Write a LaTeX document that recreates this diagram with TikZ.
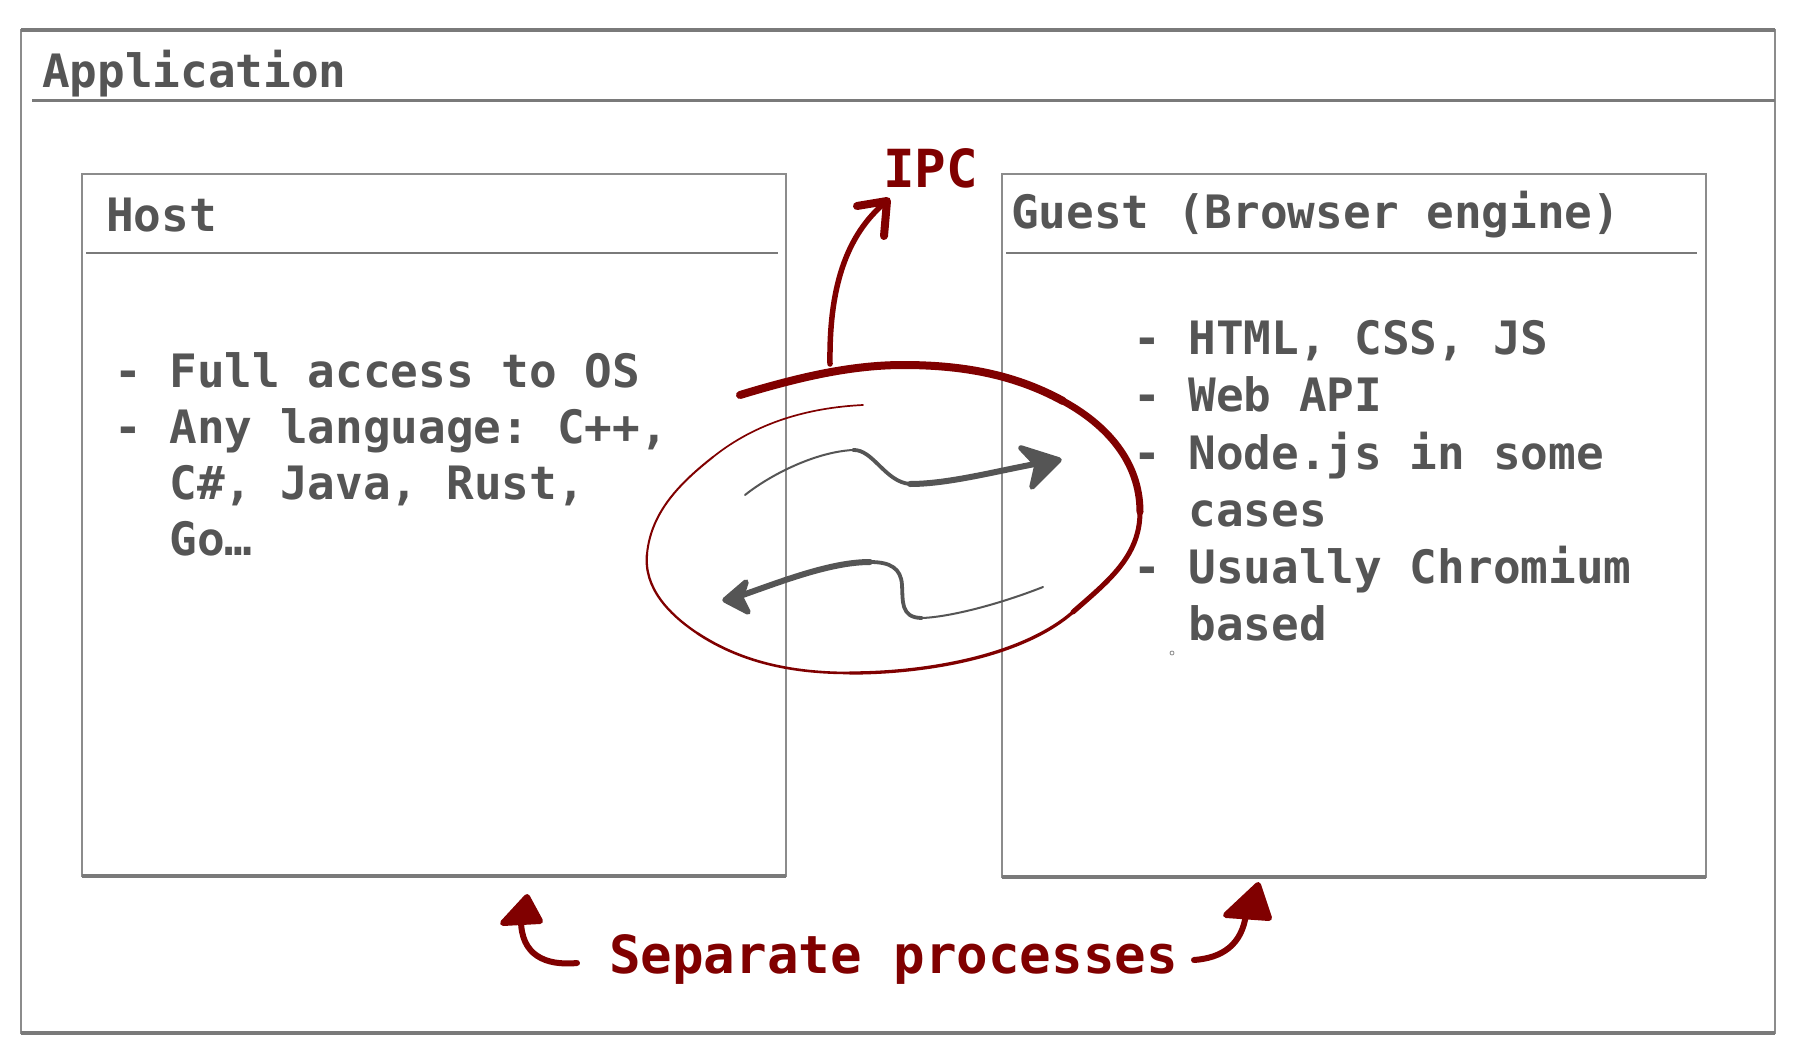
\documentclass[tikz,border=0pt]{standalone}
\usepackage{fontspec}
\setmonofont{DejaVu Sans Mono}
\usetikzlibrary{arrows.meta}
\definecolor{txtgray}{HTML}{555555}
\definecolor{pen}{HTML}{8C8C8C}
\definecolor{pendark}{HTML}{7A7A7A}
\definecolor{ipcred}{HTML}{800000}
\definecolor{arrgray}{HTML}{555555}
\tikzset{
  lbl/.style={anchor=base west, inner sep=0pt, outer sep=0pt, text=txtgray,
    font=\ttfamily\bfseries\fontsize{46}{56}\selectfont},
  redlbl/.style={anchor=base west, inner sep=0pt, outer sep=0pt, text=ipcred,
    font=\ttfamily\bfseries\fontsize{52.5}{60}\selectfont},
  boxside/.style={draw=pen, line width=2.2pt, inner sep=0pt, outer sep=0pt, anchor=north west},
  boxedge/.style={draw=pendark, line width=3.2pt},
  headline/.style={draw=pendark, line width=2.6pt},
  ipcline/.style={draw=ipcred, line width=5.5pt, line cap=round, line join=round},
  sepline/.style={draw=ipcred, line width=6pt, line cap=round, line join=round},
  blob/.style={fill=ipcred, draw=ipcred, line width=6pt, line join=round},
  wave/.style={draw=arrgray, line cap=round, line join=round},
  wavehead/.style={fill=arrgray, draw=arrgray, line width=5.5pt, line join=round},
  oval/.style={draw=ipcred, line cap=round, line join=round},
}
\begin{document}
\begin{tikzpicture}[x=1pt,y=-1pt]
\useasboundingbox (0,0) rectangle (1797,1054);
\fill[white] (0,0) rectangle (1797,1054);

% boxes
\node[boxside, minimum width=1754pt, minimum height=1003pt] (app) at (21,30) {};
\draw[boxedge] (21,30) -- (1775,30);
\draw[boxedge] (21,1033) -- (1775,1033);
\draw[headline, line width=3pt] (32,101) -- (1775,101);

\node[boxside, minimum width=704pt, minimum height=702pt] (host) at (82,174) {};
\draw[boxedge] (82,876) -- (786,876);
\draw[headline] (86,253) -- (778,253);

\node[boxside, minimum width=704pt, minimum height=703pt] (guest) at (1002,174) {};
\draw[boxedge] (1002,877) -- (1706,877);
\draw[headline] (1006,253) -- (1697,253);

% titles
\node[lbl] (apptitle) at (42,88) {Application};
\node[lbl] (hosttitle) at (106,231) {Host};
\node[lbl] (guesttitle) at (1011,228) {Guest (Browser engine)};

% host text
\node[lbl] (h1) at (114,387) {- Full access to OS};
\node[lbl] (h2) at (114,443) {- Any language: C++,};
\node[lbl] (h3) at (169.4,499) {C\#, Java, Rust,};
\node[lbl] (h4) at (169.4,555) {Go…};

% guest text
\node[lbl] (g1) at (1133,354) {- HTML, CSS, JS};
\node[lbl] (g2) at (1133,411) {- Web API};
\node[lbl] (g3) at (1133,469) {- Node.js in some};
\node[lbl] (g4) at (1188.4,526) {cases};
\node[lbl] (g5) at (1133,583) {- Usually Chromium};
\node[lbl] (g6) at (1188.4,640) {based};

% red labels
\node[redlbl] (ipc) at (883,188) {IPC};
\node[redlbl] (sep) at (609,973) {Separate processes};

% oval (hand-drawn, tapering stroke)
\coordinate (oA) at (740,395);
\coordinate (oB) at (903,365);
\coordinate (oC) at (1063,401);
\coordinate (oD) at (1140,512);
\coordinate (oE) at (1073,612);
\coordinate (oF) at (850,673);
\coordinate (oG) at (697,633);
\coordinate (oH) at (647,554);
\coordinate (oI) at (713,457);
\coordinate (oJ) at (863,405);
\draw[oval, line width=8pt] (oA) .. controls (793,379) and (848,365) .. (oB)
  .. controls (960,365) and (1013,373.5) .. (oC);
\draw[oval, line width=7pt] (oC) .. controls (1107,425) and (1140,462) .. (oD);
\draw[oval, line width=5pt] (oD) .. controls (1140,557) and (1107,582) .. (oE);
\draw[oval, line width=3.3pt] (oE) .. controls (1024,655) and (930,673) .. (oF);
\draw[oval, line width=2.6pt] (oF) .. controls (795,673) and (743,663.5) .. (oG);
\draw[oval, line width=2.3pt] (oG) .. controls (668.7,614) and (643.6,587.8) .. (oH);
\draw[oval, line width=2pt] (oH) .. controls (651,512) and (680,483) .. (oI);
\draw[oval, line width=1.7pt] (oI) .. controls (756,422.6) and (808,407.7) .. (oJ);

% IPC arrow
\coordinate (ipcfoot) at (830,364);
\coordinate (ipctip) at (887,201);
\draw[ipcline] (ipcfoot) .. controls (829,290) and (845,235) .. (ipctip);
\draw[ipcline, line width=8pt] (857,206) -- (ipctip) -- (884,236);

% gray wave arrows
\coordinate (w1a) at (745,495);
\coordinate (w1b) at (853,450);
\coordinate (w1c) at (910,484);
\coordinate (w1d) at (1046,462);
\draw[wave, line width=2pt] (w1a) .. controls (770,475) and (815,452) .. (w1b);
\draw[wave, line width=3.8pt] (w1b) .. controls (873,449) and (885,482) .. (w1c);
\draw[wave, line width=6pt] (w1c) .. controls (950,484) and (1000,470) .. (w1d);
\filldraw[wavehead] (1059,460) -- (1021,448) -- (1037,465) -- (1032,487) -- cycle;

\coordinate (w2a) at (1043,587);
\coordinate (w2b) at (922,618);
\coordinate (w2c) at (870,562);
\coordinate (w2d) at (737,597);
\draw[wave, line width=2pt] (w2a) .. controls (1000,604) and (950,617) .. (w2b);
\draw[wave, line width=3.8pt] (w2b) .. controls (900,618) and (903,600) .. (902,585) .. controls (901,568) and (890,562) .. (w2c);
\draw[wave, line width=6pt] (w2c) .. controls (830,562) and (780,582) .. (w2d);
\filldraw[wavehead] (725,600) -- (746,582) -- (741,598) -- (748,612) -- cycle;

% separate processes arrows
\coordinate (sepL) at (577,963);
\coordinate (sepLtip) at (521,920);
\draw[sepline] (sepL) .. controls (545,966) and (521,955) .. (sepLtip);
\filldraw[blob] (527,897) -- (503,923) -- (540,921) -- cycle;

\coordinate (sepR) at (1194,960);
\coordinate (sepRtip) at (1246,914);
\draw[sepline] (sepR) .. controls (1222,958) and (1242,945) .. (sepRtip);
\filldraw[blob] (1258,885) -- (1226,915) -- (1269,918) -- cycle;

% tiny mark
\draw[pen, line width=0.8pt] (1172,653) circle (2pt);
\end{tikzpicture}
\end{document}
